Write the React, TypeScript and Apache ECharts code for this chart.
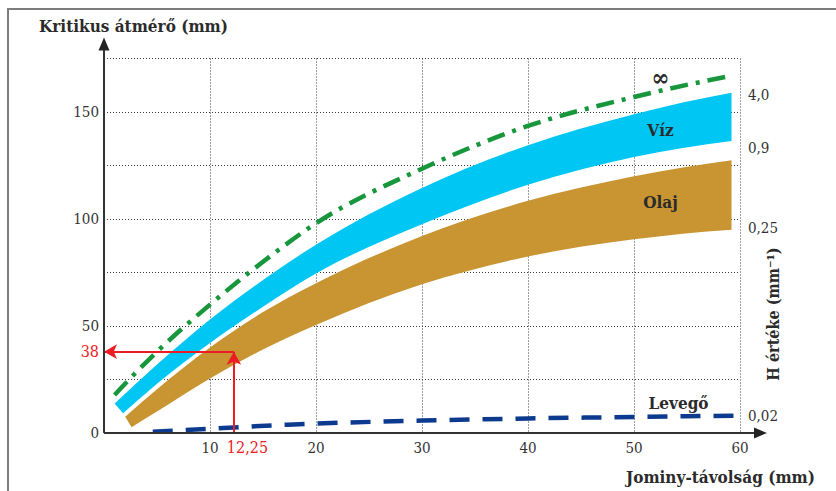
import React, { useEffect, useRef } from 'react';
import * as echarts from 'echarts';

// Axis ranges and tick labels
const X_MIN = 0;
const X_MAX = 60;
const X_STEP = 10;
const Y_MIN = 0;
const Y_MAX = 175;
const Y_STEP = 25;
const xLabelValues = [10, 20, 30, 40, 50, 60];
const yLabelValues = [0, 50, 100, 150];

// Quenching in water: band of critical diameters (mm) vs Jominy distance (mm)
const vizTopX = [1.0, 5, 10, 15, 20, 30, 40, 50, 59.2];
const vizTop = [13.8, 32, 53, 71.5, 88, 114.5, 134.5, 149, 159];
const vizBottomX = [1.8, 5, 10, 15, 20, 30, 40, 50, 59.2];
const vizBottom = [9.2, 23, 42, 59, 74.5, 97.5, 116, 129, 136.5];

// Quenching in oil
const olajTopX = [2.0, 5, 10, 15, 20, 30, 40, 50, 59.2];
const olajTop = [7.6, 20.5, 40, 56.5, 70, 92, 108.5, 120, 127.5];
const olajBottomX = [2.6, 5, 10, 15, 20, 30, 40, 50, 59.2];
const olajBottom = [2.7, 10, 25.5, 39, 50.5, 69.5, 82.5, 90.5, 95];

// Ideal quench (H = ∞)
const idealX = [1, 5, 10, 15, 20, 30, 40, 50, 59.3];
const idealY = [17.8, 38, 60, 80, 98, 123.5, 143.5, 157, 167];

// Cooling in still air
const levegoX = [4.6, 10, 16, 20, 30, 40, 50, 59.7];
const levegoY = [0.6, 2.0, 3.6, 4.4, 5.8, 6.8, 7.5, 8.1];

// Quench severity (H) labels on the right side and the heights they sit at
const hLabels = ['4,0', '0,9', '0,25', '0,02'];
const hLevels = [158, 133, 96, 8];

// Worked example: Jominy distance -> critical diameter
const exampleJ = 12.25;
const exampleD = 38;

const GRID = { left: 104, top: 58.5, width: 636, height: 374.5 };
const SERIF = '"DejaVu Serif Condensed", "DejaVu Serif", serif';
const TEXT = '#2b2b2b';
const RED = '#ec1c24';

type Pt = number[];

// Cubic segments (Bessel tangents) through points ordered by x, in pixel space
function smoothSegments(pts: Pt[]): Pt[][] {
  const n = pts.length;
  const dx: number[] = [];
  const s: number[] = [];
  for (let i = 0; i < n - 1; i++) {
    dx[i] = pts[i + 1][0] - pts[i][0];
    s[i] = (pts[i + 1][1] - pts[i][1]) / dx[i];
  }
  const m: number[] = [];
  const endSlope = (h0: number, h1: number, s0: number, s1: number) => {
    let t = ((2 * h0 + h1) * s0 - h0 * s1) / (h0 + h1);
    if (Math.sign(t) !== Math.sign(s0)) t = 0;
    return t;
  };
  m[0] = n > 2 ? endSlope(dx[0], dx[1], s[0], s[1]) : s[0];
  m[n - 1] = n > 2 ? endSlope(dx[n - 2], dx[n - 3], s[n - 2], s[n - 3]) : s[n - 2];
  for (let i = 1; i < n - 1; i++) {
    m[i] = (dx[i] * s[i - 1] + dx[i - 1] * s[i]) / (dx[i - 1] + dx[i]);
  }
  const segs: Pt[][] = [];
  for (let i = 0; i < n - 1; i++) {
    const h = dx[i] / 3;
    segs.push([
      [pts[i][0] + h, pts[i][1] + m[i] * h],
      [pts[i + 1][0] - h, pts[i + 1][1] - m[i + 1] * h],
      pts[i + 1],
    ]);
  }
  return segs;
}

const f = (p: Pt) => `${p[0].toFixed(2)} ${p[1].toFixed(2)}`;

function curvePath(pts: Pt[]): string {
  let d = `M ${f(pts[0])}`;
  smoothSegments(pts).forEach((sg) => { d += ` C ${f(sg[0])} ${f(sg[1])} ${f(sg[2])}`; });
  return d;
}

function bandSeries(name: string, tx: number[], ty: number[], bx: number[], by: number[], color: string) {
  return {
    type: 'custom',
    name,
    coordinateSystem: 'cartesian2d',
    z: 3,
    silent: true,
    data: tx.map((x, i) => [x, ty[i]]),
    encode: { x: 0, y: 1 },
    renderItem: (params: any, api: any) => {
      if (params.dataIndex !== 0) return null;
      const top = tx.map((x, i) => api.coord([x, ty[i]]));
      const bot = bx.map((x, i) => api.coord([x, by[i]]));
      const botSegs = smoothSegments(bot);
      let d = curvePath(top);
      d += ` L ${f(bot[bot.length - 1])}`;
      for (let i = botSegs.length - 1; i >= 0; i--) {
        const sg = botSegs[i];
        d += ` C ${f(sg[1])} ${f(sg[0])} ${f(bot[i])}`;
      }
      d += ' Z';
      return { type: 'path', shape: { pathData: d }, style: { fill: color } };
    },
  };
}

function curveSeries(name: string, xs: number[], ys: number[], color: string, dash: number[]) {
  return {
    type: 'custom',
    name,
    coordinateSystem: 'cartesian2d',
    z: 4,
    silent: true,
    data: xs.map((x, i) => [x, ys[i]]),
    encode: { x: 0, y: 1 },
    renderItem: (params: any, api: any) => {
      if (params.dataIndex !== 0) return null;
      const pts = xs.map((x, i) => api.coord([x, ys[i]]));
      return {
        type: 'path',
        shape: { pathData: curvePath(pts) },
        style: { fill: 'none', stroke: color, lineWidth: 4.5, lineDash: dash, lineCap: 'butt' },
      };
    },
  };
}

export default function App() {
  const ref = useRef<HTMLDivElement>(null);

  useEffect(() => {
    const chart = echarts.init(ref.current!, null, { renderer: 'svg' });

    const gridLine = { show: true, lineStyle: { color: '#3a3a3a', width: 1, type: [1, 2] } };
    const tickFont = { fontFamily: SERIF, fontSize: 15, color: '#333' };

    chart.setOption({
      animation: false,
      backgroundColor: '#ffffff',
      grid: { left: GRID.left, top: GRID.top, width: GRID.width, height: GRID.height, containLabel: false },
      xAxis: {
        type: 'value',
        min: X_MIN,
        max: X_MAX,
        interval: X_STEP,
        axisLine: { show: false },
        axisTick: { show: false },
        axisLabel: {
          ...tickFont,
          margin: 7,
          formatter: (v: number) => (xLabelValues.includes(v) ? String(v) : ''),
        },
        splitLine: gridLine,
      },
      yAxis: {
        type: 'value',
        min: Y_MIN,
        max: Y_MAX,
        interval: Y_STEP,
        axisLine: { show: false },
        axisTick: { show: false },
        axisLabel: {
          ...tickFont,
          margin: 5,
          formatter: (v: number) => (yLabelValues.includes(v) ? String(v) : ''),
        },
        splitLine: gridLine,
      },
      series: [
        bandSeries('Olaj', olajTopX, olajTop, olajBottomX, olajBottom, '#c99532'),
        bandSeries('Víz', vizTopX, vizTop, vizBottomX, vizBottom, '#00c6f3'),
        curveSeries('∞', idealX, idealY, '#17963c', [18, 8, 4, 8]),
        curveSeries('Levegő', levegoX, levegoY, '#0c3a8e', [20, 13]),
        {
          type: 'line',
          name: 'példa',
          z: 5,
          data: [],
          markLine: {
            silent: true,
            symbol: ['none', 'arrow'],
            symbolSize: [11, 13],
            label: { show: false },
            lineStyle: { color: RED, width: 2, type: 'solid' },
            data: [
              [{ coord: [exampleJ, 0] }, { coord: [exampleJ, exampleD] }],
              [{ coord: [exampleJ, exampleD] }, { coord: [0, exampleD] }],
            ],
          },
        },
      ],
    });

    const p = (x: number, y: number) => chart.convertToPixel({ gridIndex: 0 }, [x, y]) as number[];
    const origin = p(X_MIN, Y_MIN);
    const axisTop = GRID.top - 20;
    const axisRight = GRID.left + GRID.width + 26;

    const boldText = (text: string, x: number, y: number, size = 16, align = 'center') => ({
      type: 'text',
      z: 100,
      x,
      y,
      style: { text, fill: TEXT, font: `bold ${size}px ${SERIF}`, align, verticalAlign: 'middle' },
    });

    const graphics: any[] = [
      // frame
      { type: 'line', z: 100, shape: { x1: 7, y1: 9, x2: 836, y2: 9 }, style: { stroke: '#7d7d7d', lineWidth: 2 } },
      { type: 'line', z: 100, shape: { x1: 8, y1: 8, x2: 8, y2: 491 }, style: { stroke: '#7d7d7d', lineWidth: 2 } },
      // axes with arrow heads
      { type: 'line', z: 90, shape: { x1: origin[0], y1: origin[1], x2: origin[0], y2: axisTop + 10 }, style: { stroke: '#333', lineWidth: 2 } },
      {
        type: 'polygon', z: 90,
        shape: { points: [[origin[0], axisTop - 1], [origin[0] - 5.5, axisTop + 12], [origin[0] + 5.5, axisTop + 12]] },
        style: { fill: '#222' },
      },
      { type: 'line', z: 90, shape: { x1: origin[0], y1: origin[1], x2: axisRight - 10, y2: origin[1] }, style: { stroke: '#333', lineWidth: 2 } },
      {
        type: 'polygon', z: 90,
        shape: { points: [[axisRight + 1, origin[1]], [axisRight - 12, origin[1] - 5.5], [axisRight - 12, origin[1] + 5.5]] },
        style: { fill: '#222' },
      },
      // titles
      boldText('Kritikus átmérő (mm)', 39, 26, 17, 'left'),
      boldText('Jominy-távolság (mm)', 815, 477, 17, 'right'),
      {
        type: 'text', z: 100, x: 773, y: 314, rotation: Math.PI / 2,
        style: { text: 'H értéke (mm⁻¹)', fill: TEXT, font: `bold 16px ${SERIF}`, align: 'center', verticalAlign: 'middle' },
      },
    ];

    // series names inside the plot
    const vizPos = p(52.5, 141.5);
    const olajPos = p(52.5, 108);
    const levegoPos = p(54.2, 14);
    const idealPos = p(52.5, 166);
    graphics.push(boldText('Víz', vizPos[0], vizPos[1], 17));
    graphics.push(boldText('Olaj', olajPos[0], olajPos[1], 17));
    graphics.push(boldText('Levegő', levegoPos[0], levegoPos[1], 17));
    graphics.push({
      type: 'text', z: 100, x: idealPos[0], y: idealPos[1],
      style: { text: '∞', fill: TEXT, font: `bold 24px ${SERIF}`, align: 'center', verticalAlign: 'middle' },
    });

    // H values on the right
    hLabels.forEach((t, i) => {
      const pos = p(X_MAX, hLevels[i]);
      graphics.push({
        type: 'text', z: 100, x: pos[0] + 8, y: pos[1],
        style: { text: t, fill: '#333', font: `15px ${SERIF}`, align: 'left', verticalAlign: 'middle' },
      });
    });

    // worked example values in red
    const exY = p(X_MIN, exampleD);
    const exX = p(exampleJ, Y_MIN);
    graphics.push({
      type: 'text', z: 100, x: exY[0] - 5, y: exY[1],
      style: { text: String(exampleD), fill: RED, font: `16px ${SERIF}`, align: 'right', verticalAlign: 'middle' },
    });
    graphics.push({
      type: 'text', z: 100, x: exX[0] - 7, y: exX[1] + 14,
      style: { text: String(exampleJ).replace('.', ','), fill: RED, font: `16px ${SERIF}`, align: 'left', verticalAlign: 'middle' },
    });

    chart.setOption({ graphic: graphics });

    return () => chart.dispose();
  }, []);

  return <div ref={ref} style={{ position: 'absolute', left: 0, top: 0, width: 836, height: 491 }} />;
}
